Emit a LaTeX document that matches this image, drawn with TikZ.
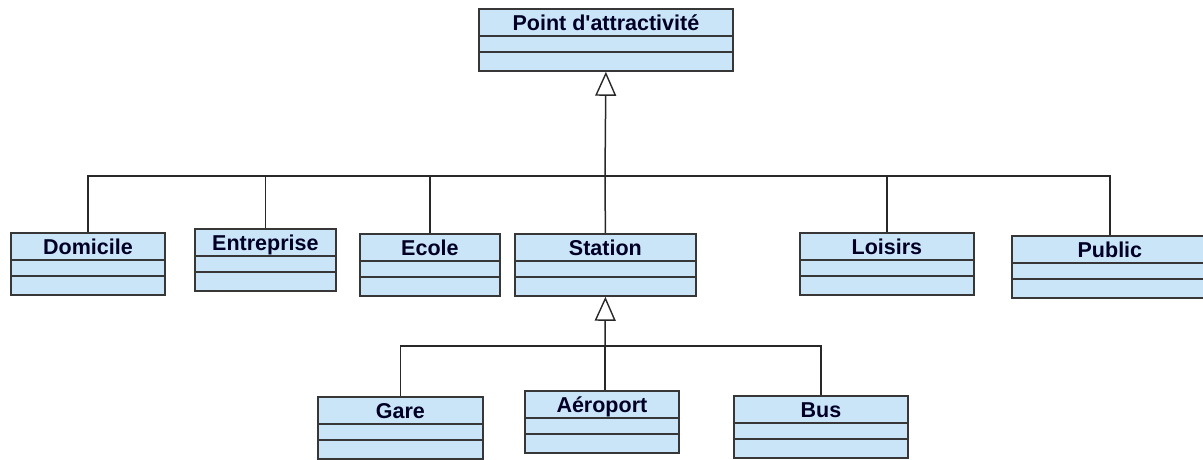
\documentclass[tikz,border=0pt]{standalone}
\usepackage{fontspec}
\setmainfont{Liberation Sans}
\usetikzlibrary{calc,arrows.meta}
\definecolor{boxfill}{RGB}{201,229,247}
\definecolor{boxline}{RGB}{55,55,55}
\definecolor{conline}{RGB}{40,40,40}
\tikzset{
  cls/.style={draw=boxline, fill=boxfill, line width=1.8pt, inner sep=0pt, anchor=north west, rectangle},
  divider/.style={draw=boxline, line width=1.6pt},
  ttl/.style={anchor=base, inner sep=0pt, font=\fontsize{21.5}{23}\selectfont\bfseries, text=black!85!blue},
  con/.style={draw=conline, line width=1.5pt},
  gen/.style={con, -{Triangle[open, length=24pt, width=21pt, line width=1.4pt]}}
}
\newcommand{\umlclass}[5]{% name, left, top, right, text
  \node[cls, minimum width=#4pt-#2pt, minimum height=62pt] (#1) at (#2,#3) {};
  \draw[divider] ($(#1.north west)+(0,28)$) -- ($(#1.north east)+(0,28)$);
  \draw[divider] ($(#1.north west)+(0,44)$) -- ($(#1.north east)+(0,44)$);
  \node[ttl] (#1-t) at ($(#1.north)+(0,22)$) {#5};
}
\begin{document}
\begin{tikzpicture}[x=1pt,y=-1pt]
\useasboundingbox (0,0) rectangle (1203,459);
\umlclass{pt}{478}{8}{732}{Point d\textquotesingle attractivité}
\umlclass{dom}{10}{232}{164}{Domicile}
\umlclass{ent}{194}{228}{335}{Entreprise}
\umlclass{eco}{359}{233}{499}{Ecole}
\umlclass{sta}{514}{233}{695}{Station}
\umlclass{loi}{799}{232}{973}{Loisirs}
\umlclass{pub}{1011}{235}{1207}{Public}
\umlclass{gar}{317}{396}{482}{Gare}
\umlclass{aer}{524}{390}{678}{Aéroport}
\umlclass{bus}{733}{395}{907}{Bus}
\coordinate (j1) at (605,176);
\coordinate (j2) at (605,346);
\draw[gen] (j1) -- (pt.south);
\draw[con] (dom.north) |- (j1);
\draw[con] (ent.north) |- (j1);
\draw[con] (eco.north) |- (j1);
\draw[con] (sta.north) -- (j1);
\draw[con] (loi.north) |- (j1);
\draw[con] (pub.north) |- (j1);
\draw[gen] (j2) -- (sta.south);
\draw[con] (gar.north) |- (j2);
\draw[con] (j2) -- (j2 |- aer.north);
\draw[con] (bus.north) |- (j2);
\end{tikzpicture}
\end{document}
